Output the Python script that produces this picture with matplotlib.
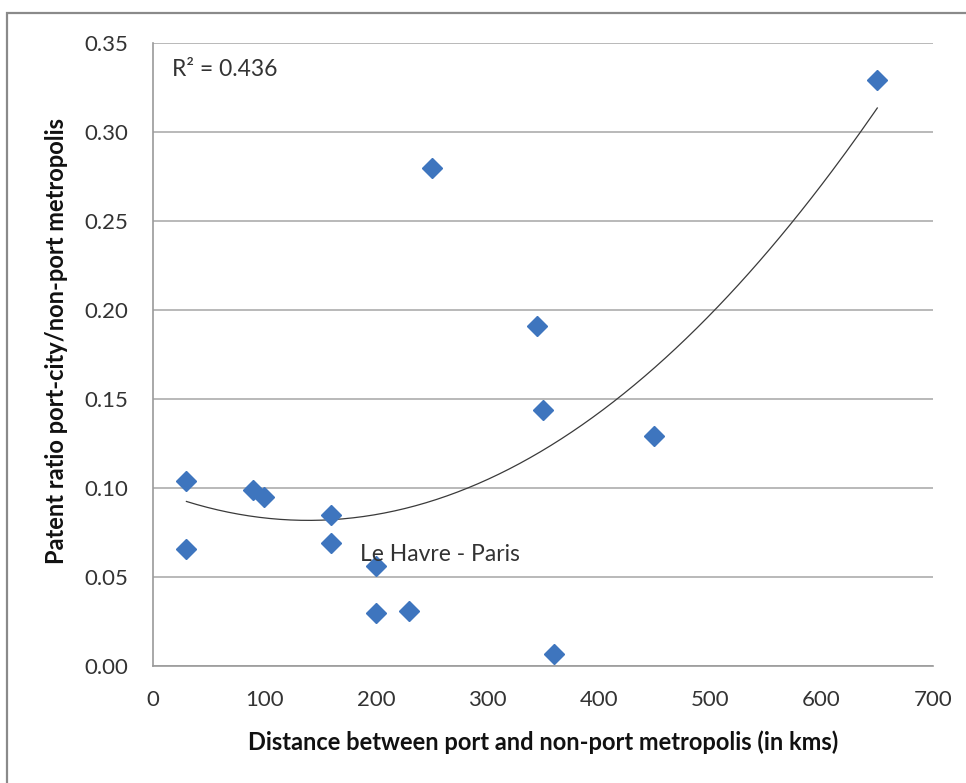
import numpy as np
import matplotlib
matplotlib.use("Agg")
import matplotlib.pyplot as plt
from matplotlib.patches import Rectangle

# Data
distance_km = [30, 30, 90, 100, 160, 160, 200, 200, 230, 250, 345, 350, 360, 450, 650]
patent_ratio = [0.104, 0.066, 0.099, 0.095, 0.085, 0.069, 0.056, 0.030, 0.031,
                0.280, 0.191, 0.144, 0.007, 0.129, 0.329]
x_ticks = [0, 100, 200, 300, 400, 500, 600, 700]
y_ticks = [0.00, 0.05, 0.10, 0.15, 0.20, 0.25, 0.30, 0.35]
r2_label = "R² = 0.436"
point_label = "Le Havre - Paris"

plt.rcParams['font.family'] = ['Lato', 'DejaVu Sans']

W, H = 966, 783
fig = plt.figure(figsize=(W / 100, H / 100), dpi=100)
fig.patch.set_facecolor('white')

# outer chart border
fig.add_artist(Rectangle((7 / W, -0.05), 1.2, 1 - 13 / H + 0.05, transform=fig.transFigure,
                         fill=False, edgecolor='#8a8a8a', linewidth=1.6))

ax = fig.add_axes([153 / W, 1 - 666 / H, (933 - 153) / W, (666 - 43) / H])
ax.set_xlim(0, 700)
ax.set_ylim(0, 0.35)
ax.set_xticks(x_ticks)
ax.set_yticks(y_ticks)
ax.set_xticklabels([str(v) for v in x_ticks])
ax.set_yticklabels([f"{v:.2f}" for v in y_ticks])
ax.tick_params(length=0, labelsize=16, labelcolor='#333333')
ax.tick_params(axis='x', pad=17)
ax.tick_params(axis='y', pad=18)

for s in ['top', 'right']:
    ax.spines[s].set_visible(False)
for s in ['left', 'bottom']:
    ax.spines[s].set_color('#9a9a9a')
    ax.spines[s].set_linewidth(1.2)

ax.yaxis.grid(True, color='#a6a6a6', linewidth=1.1)
ax.set_axisbelow(True)

# quadratic trendline fitted to the data
coef = np.polyfit(distance_km, patent_ratio, 2)
xs = np.linspace(min(distance_km), max(distance_km), 200)
ax.plot(xs, np.polyval(coef, xs), color='#3a3a3a', linewidth=0.9, zorder=2)

ax.plot(distance_km, patent_ratio, linestyle='none', marker='D', markersize=10,
        color='#3E75BE', markeredgecolor='#3E75BE', zorder=3, clip_on=False)

ax.text(0.024, 0.957, r2_label, transform=ax.transAxes, fontsize=16.5,
        color='#333333', va='center', ha='left')
ax.text(186, 0.0625, point_label, fontsize=16.5, color='#333333', va='center', ha='left')

ax.set_xlabel("Distance between port and non-port metropolis (in kms)",
              fontsize=17, fontweight='bold', color='#111111', va='center')
ax.set_ylabel("Patent ratio port-city/non-port metropolis",
              fontsize=17, fontweight='bold', color='#111111', va='center')
ax.xaxis.set_label_coords(0.5, (666 - 742) / 623)
ax.yaxis.set_label_coords((57 - 153) / 780, (666 - 341) / 623)

fig.savefig("out.png", dpi=100, facecolor='white')
